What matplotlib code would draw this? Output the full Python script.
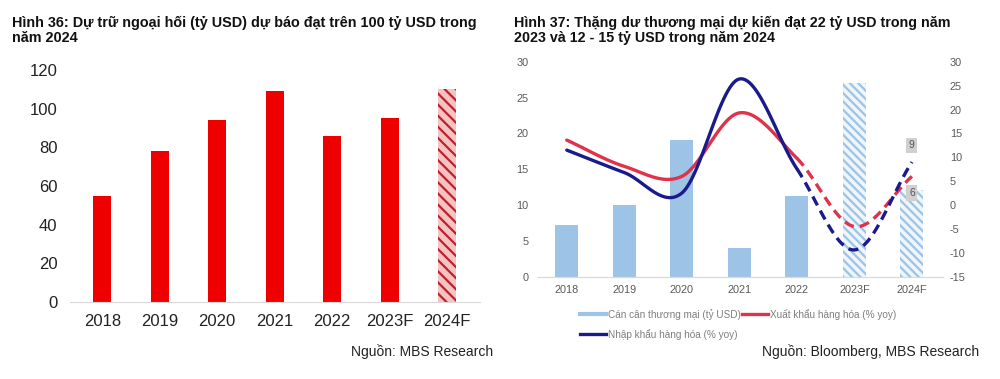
import numpy as np
import matplotlib
matplotlib.use("Agg")
import matplotlib.pyplot as plt
from matplotlib.lines import Line2D

plt.rcParams['font.family'] = ['Liberation Sans', 'DejaVu Sans']
plt.rcParams['hatch.linewidth'] = 1.6
plt.rcParams['axes.unicode_minus'] = False

# Hinh 36 - du tru ngoai hoi (ty USD)
years = ["2018", "2019", "2020", "2021", "2022", "2023F", "2024F"]
reserves = [55, 78, 94, 109, 86, 95, 110]

# Hinh 37 - can can thuong mai (ty USD) and growth (% yoy)
trade_balance = [7.2, 10.0, 19.1, 4.0, 11.2, 27.0, 12.1]
exports_yoy = [13.6, 8.1, 6.0, 19.3, 9.8, -4.5, 6.0]
imports_yoy = [11.5, 6.8, 2.5, 26.4, 7.6, -9.4, 9.0]
n_actual = 5  # 2018-2022 actual, rest forecast


def smooth(xs, ys, steps=30):
    # Catmull-Rom style curve through the points, like Excel "smoothed line"
    xs = np.asarray(xs, float)
    ys = np.asarray(ys, float)
    px = np.concatenate([[2 * xs[0] - xs[1]], xs, [2 * xs[-1] - xs[-2]]])
    py = np.concatenate([[2 * ys[0] - ys[1]], ys, [2 * ys[-1] - ys[-2]]])
    out_x, out_y = [], []
    for i in range(1, len(px) - 2):
        t = np.linspace(0, 1, steps, endpoint=(i == len(px) - 3))
        for p, out in ((px, out_x), (py, out_y)):
            p0, p1, p2, p3 = p[i - 1], p[i], p[i + 1], p[i + 2]
            out.extend(0.5 * ((2 * p1) + (-p0 + p2) * t
                              + (2 * p0 - 5 * p1 + 4 * p2 - p3) * t ** 2
                              + (-p0 + 3 * p1 - 3 * p2 + p3) * t ** 3))
    return np.array(out_x), np.array(out_y)


fig = plt.figure(figsize=(10, 3.79), dpi=100)

# ---------- left chart ----------
ax1 = fig.add_axes([0.070, 0.2032, 0.410, 0.612])
x = np.arange(len(years))
red = "#EE0000"
ax1.bar(x[:-1], reserves[:-1], width=0.31, color=red)
ax1.bar(x[-1:], reserves[-1:], width=0.31, color="#F6C3C3",
        edgecolor="#C0202A", hatch="\\\\\\", linewidth=0)
ax1.set_xlim(-0.56, 6.57)
ax1.set_ylim(0, 120)
ax1.set_yticks(range(0, 121, 20))
ax1.set_xticks(x)
ax1.set_xticklabels(years)
for s in ["top", "right", "left"]:
    ax1.spines[s].set_visible(False)
ax1.spines["bottom"].set_color("#D9D9D9")
ax1.tick_params(axis="both", length=0, labelsize=12, colors="#222222")
ax1.tick_params(axis="y", pad=9)
ax1.tick_params(axis="x", pad=9)

fig.text(0.012, 0.958, "Hình 36: Dự trữ ngoại hối (tỷ USD) dự báo đạt trên 100 tỷ USD trong\nnăm 2024",
         fontsize=10.4, fontweight="bold", va="top", ha="left", linespacing=1.1, color="#111111")
fig.text(0.493, 0.072, "Nguồn: MBS Research", fontsize=10, ha="right", va="center", color="#222222")

# ---------- right chart ----------
ax2 = fig.add_axes([0.538, 0.270, 0.405, 0.567])
ax3 = ax2.twinx()
blue = "#9DC3E6"
ax2.bar(x[:n_actual], trade_balance[:n_actual], width=0.4, color=blue, zorder=1)
ax2.bar(x[n_actual:], trade_balance[n_actual:], width=0.4, color="#EEF5FB",
        edgecolor="#9DC3E6", hatch="\\\\\\\\", linewidth=0, zorder=1)
ax2.set_xlim(-0.5, 6.54)
ax2.set_ylim(0, 30)
ax2.set_yticks(range(0, 31, 5))
ax3.set_ylim(-15, 30)
ax3.set_yticks(range(-15, 31, 5))
ax2.set_xticks(x)
ax2.set_xticklabels(years)
for a in (ax2, ax3):
    for s in ["top", "right", "left"]:
        a.spines[s].set_visible(False)
    a.spines["bottom"].set_color("#D9D9D9")
    a.tick_params(axis="both", length=0, labelsize=7.8, colors="#595959")
ax2.tick_params(axis="y", pad=7)
ax3.tick_params(axis="y", pad=5)
ax2.tick_params(axis="x", pad=6)

red_line = "#E0324B"
navy = "#1A1A8C"
for vals, col in ((exports_yoy, red_line), (imports_yoy, navy)):
    sx, sy = smooth(x, vals)
    cut = n_actual - 1
    solid = sx <= cut
    ax3.plot(sx[solid], sy[solid], color=col, lw=2.4, solid_capstyle="round", zorder=3)
    ax3.plot(sx[sx >= cut], sy[sx >= cut], color=col, lw=2.4, ls=(0, (3, 1.8)), zorder=3)

box = dict(boxstyle="square,pad=0.25", fc="#D0D0D0", ec="none")
ax3.annotate(f"{imports_yoy[-1]:.0f}", (x[-1], imports_yoy[-1]), xytext=(0, 12),
             textcoords="offset points", ha="center", va="center", fontsize=7.5,
             color="#555555", bbox=box, zorder=4)
ax3.annotate(f"{exports_yoy[-1]:.0f}", (x[-1], exports_yoy[-1]), xytext=(0, -12),
             textcoords="offset points", ha="center", va="center", fontsize=7.5,
             color="#555555", bbox=box, zorder=4)

# column-major order so that row 1 = balance, exports; row 2 = imports
handles = [Line2D([], [], color=blue, lw=3),
           Line2D([], [], color=navy, lw=2.4),
           Line2D([], [], color=red_line, lw=2.4)]
labels = ["Cán cân thương mại (tỷ USD)", "Nhập khẩu hàng hóa (% yoy)", "Xuất khẩu hàng hóa (% yoy)"]
fig.legend(handles, labels, loc="upper left", bbox_to_anchor=(0.575, 0.198), ncol=2,
           frameon=False, fontsize=7.2, labelcolor="#7F7F7F", handlelength=2.6,
           handletextpad=0.2, columnspacing=0.1, borderpad=0, labelspacing=0.9)

fig.text(0.514, 0.958, "Hình 37: Thặng dư thương mại dự kiến đạt 22 tỷ USD trong năm\n2023 và 12 - 15 tỷ USD trong năm 2024",
         fontsize=10.3, fontweight="bold", va="top", ha="left", linespacing=1.1, color="#111111")
fig.text(0.979, 0.072, "Nguồn: Bloomberg, MBS Research", fontsize=10, ha="right", va="center", color="#222222")

fig.savefig("out.png", dpi=100, facecolor="white")
